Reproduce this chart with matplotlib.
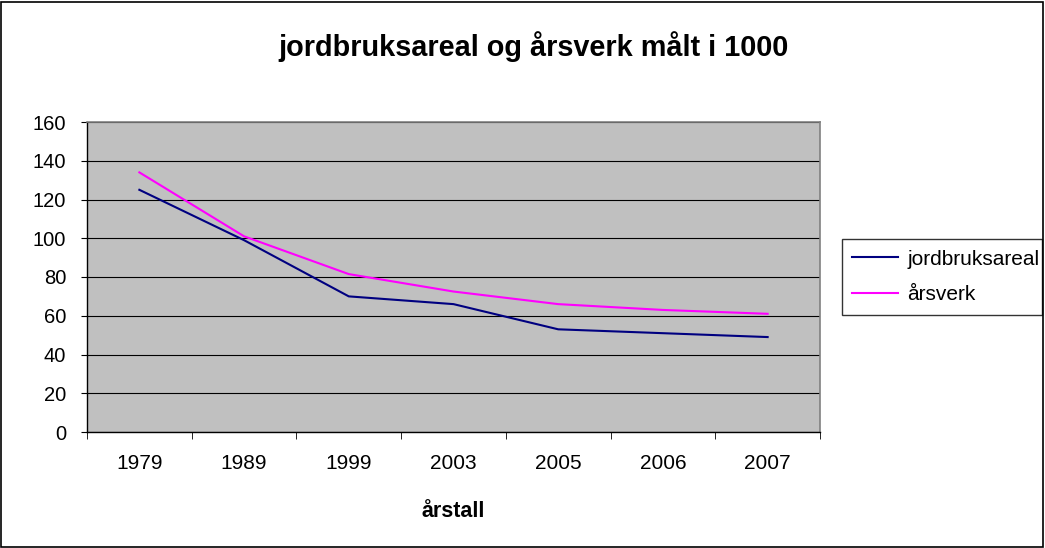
import matplotlib
matplotlib.use("Agg")
import matplotlib.pyplot as plt
from matplotlib.patches import Rectangle

plt.rcParams['font.family'] = ['Liberation Sans', 'DejaVu Sans']

years = ['1979', '1989', '1999', '2003', '2005', '2006', '2007']
jordbruksareal = [125, 99, 70, 66, 53, 51, 49]
aarsverk = [134, 101, 81.5, 72.5, 66, 63, 61]
yticks = [0, 20, 40, 60, 80, 100, 120, 140, 160]

W, H = 1045, 548
fig = plt.figure(figsize=(W/100, H/100), dpi=100)
ax = fig.add_axes([87/W, 1-432/H, (820-87)/W, (432-122)/H])
ax.set_facecolor('#c0c0c0')

x = list(range(len(years)))
ax.plot(x, jordbruksareal, color='#000080', lw=1.5, label='jordbruksareal')
ax.plot(x, aarsverk, color='#ff00ff', lw=1.5, label='årsverk')

ax.set_xlim(-0.5, len(years)-0.5)
ax.set_ylim(0, 160)
ax.set_yticks(yticks)
ax.set_yticklabels([str(v) for v in yticks], fontsize=14.5)
ax.yaxis.grid(True, color='#000000', lw=0.8)
ax.set_axisbelow(True)
ax.set_xticks(x)
ax.set_xticklabels(years, fontsize=15)
ax.set_xticks([i-0.5 for i in range(len(years)+1)], minor=True)
ax.tick_params(axis='x', which='major', length=0, pad=16)
ax.tick_params(axis='x', which='minor', length=5, direction='out', color='black')
ax.tick_params(axis='y', length=4, direction='out', pad=11, color='black')
for s in ['top', 'right']:
    ax.spines[s].set_color('#808080')
    ax.spines[s].set_linewidth(1.2)
for s in ['left', 'bottom']:
    ax.spines[s].set_color('#000000')
    ax.spines[s].set_linewidth(1.0)

ax.set_xlabel('årstall', fontsize=15.5, fontweight='bold', labelpad=20)
fig.text(534/W, 1-47/H, 'jordbruksareal og årsverk målt i 1000', ha='center', va='center',
         fontsize=20.8, fontweight='bold')

leg = ax.legend(loc='center left', bbox_to_anchor=(842/W, 1-316/H, (1042-842)/W, (316-238)/H),
                bbox_transform=fig.transFigure, mode='expand', fontsize=15, frameon=True,
                fancybox=False, handlelength=2.2, handletextpad=0.45, borderaxespad=0,
                borderpad=0.5, labelspacing=0.8)
leg.get_frame().set_edgecolor('black')
leg.get_frame().set_linewidth(1.0)

fig.patches.append(Rectangle((1/W, 1/H), (W-3)/W, (H-3)/H, transform=fig.transFigure,
                             fill=False, edgecolor='black', lw=1.2))
fig.savefig('out.png', dpi=100)
